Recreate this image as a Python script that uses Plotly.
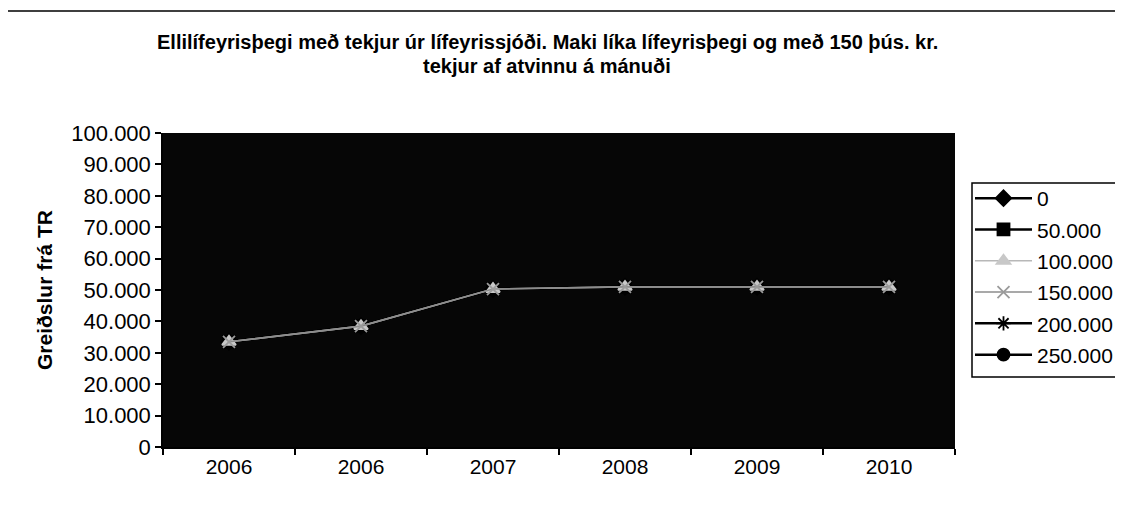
import plotly.graph_objects as go

# ── Data ──
YEAR_LABELS = ["2006", "2006", "2007", "2008", "2009", "2010"]
SERIES_NAMES = ["0", "50.000", "100.000", "150.000", "200.000", "250.000"]
PAYMENTS = [
    [33500, 38500, 50300, 51000, 51000, 51000],   # 0
    [33500, 38500, 50300, 51000, 51000, 51000],   # 50.000
    [33500, 38500, 50300, 51000, 51000, 51000],   # 100.000
    [33500, 38500, 50300, 51000, 51000, 51000],   # 150.000
    [33500, 38500, 50300, 51000, 51000, 51000],   # 200.000
    [33500, 38500, 50300, 51000, 51000, 51000],   # 250.000
]
TITLE_LINES = [
    "Ellilífeyrisþegi með tekjur úr lífeyrissjóði. Maki líka lífeyrisþegi og með 150 þús. kr.",
    "tekjur af atvinnu á mánuði",
]

# ── Styles ──
SYMBOLS = ["diamond", "square", "triangle-up", "x-thin-open", "asterisk-open", "circle"]
LINE_COLORS = ["#000000", "#000000", "#b8b8b8", "#8c8c8c", "#000000", "#000000"]
LINE_WIDTHS = [2.5, 2.5, 1.6, 1.6, 2.5, 2.5]
MARKER_COLORS = ["#000000", "#000000", "#c8c8c8", "#9a9a9a", "#000000", "#000000"]
FONT = "Arial, Liberation Sans, sans-serif"

# page body adds an 8px offset; figure sized so that nothing overflows the window
OFF = 8
W, H = 1123 - OFF, 511 - OFF
L, R, T, B = 163 - OFF, 955 - OFF, 133 - OFF, 447 - OFF
PW, PH = R - L, B - T


def px_x(p):
    return (p - OFF - L) / PW


def px_y(p):
    return (B - (p - OFF)) / PH


xs = list(range(len(YEAR_LABELS)))
fig = go.Figure()

# black series drawn first, grey ones on top
draw_order = [0, 1, 4, 5, 2, 3]
for i in draw_order:
    fig.add_trace(go.Scatter(
        x=xs,
        y=PAYMENTS[i],
        name=SERIES_NAMES[i],
        mode="lines+markers",
        legendrank=i + 1,
        legendgroup=SERIES_NAMES[i],
        line=dict(color=LINE_COLORS[i], width=LINE_WIDTHS[i]),
        marker=dict(symbol=SYMBOLS[i], size=12, color=MARKER_COLORS[i],
                    line=dict(color=MARKER_COLORS[i], width=1.8)),
    ))

fig.update_layout(
    width=W,
    height=H,
    margin=dict(l=L, r=W - R, t=T, b=H - B, autoexpand=False),
    paper_bgcolor="white",
    plot_bgcolor="#060606",
    separators=",.",
    font=dict(family=FONT, color="black", size=22),
    legend=dict(
        x=px_x(970), xanchor="left",
        y=px_y(178), yanchor="top",
        borderwidth=0,
        bgcolor="rgba(0,0,0,0)",
        font=dict(family=FONT, size=21, color="black"),
        itemwidth=57,
        tracegroupgap=1,
    ),
    showlegend=True,
)

fig.update_xaxes(
    range=[-0.5, len(YEAR_LABELS) - 0.5],
    tickvals=xs,
    ticktext=YEAR_LABELS,
    ticks="",
    showgrid=False,
    zeroline=False,
    showline=True, linecolor="black", linewidth=1.5,
    tickfont=dict(family=FONT, size=21, color="black"),
    minor=dict(tickvals=[x - 0.5 for x in xs] + [xs[-1] + 0.5],
               ticks="outside", ticklen=6, tickcolor="black", tickwidth=1.5),
)

fig.update_yaxes(
    range=[0, 100000],
    dtick=10000,
    tickformat=",d",
    ticks="outside", ticklen=6, tickcolor="black", tickwidth=1.5,
    showgrid=False,
    zeroline=False,
    showline=True, linecolor="black", linewidth=1.5,
    tickfont=dict(family=FONT, size=22, color="black"),
)

# title, one annotation per line
for text, ypix in zip(TITLE_LINES, [42, 66]):
    fig.add_annotation(
        text=text,
        xref="paper", yref="paper",
        x=px_x(547), y=px_y(ypix),
        xanchor="center", yanchor="middle",
        showarrow=False,
        font=dict(family=FONT, size=20, color="black", weight="bold"),
    )

# y axis title
fig.add_annotation(
    text="Greiðslur frá TR",
    xref="paper", yref="paper",
    x=px_x(44), y=0.5,
    xanchor="center", yanchor="middle",
    textangle=-90,
    showarrow=False,
    font=dict(family=FONT, size=21, color="black", weight="bold"),
)

# legend box
fig.add_shape(
    type="rect",
    xref="paper", yref="paper",
    x0=px_x(972), x1=px_x(1140),
    y0=px_y(377), y1=px_y(183),
    line=dict(color="black", width=1.5),
    fillcolor="white",
    layer="below",
)

# chart border
fig.add_shape(
    type="rect",
    xref="paper", yref="paper",
    x0=px_x(6), x1=px_x(1140),
    y0=px_y(530), y1=px_y(11),
    line=dict(color="black", width=1.5),
    fillcolor="rgba(0,0,0,0)",
    layer="below",
)

fig.write_html("out.html")
